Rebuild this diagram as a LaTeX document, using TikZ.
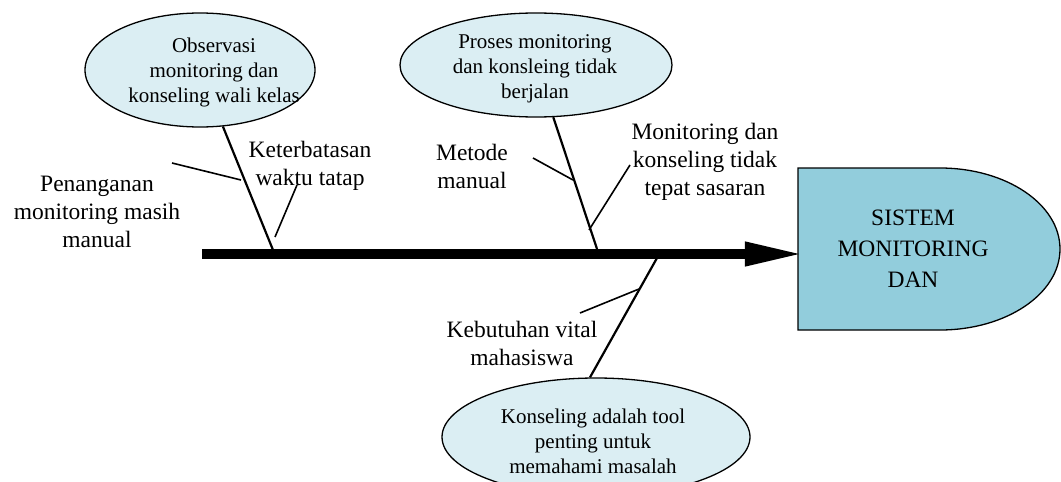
\documentclass[tikz,border=0pt]{standalone}
\usepackage{fontspec}
\setmainfont{Liberation Serif}
\usetikzlibrary{positioning,arrows.meta,shapes.geometric}
\definecolor{paleblue}{HTML}{DBEEF3}
\definecolor{boxblue}{HTML}{92CDDC}

\begin{document}
\begin{tikzpicture}[x=1pt,y=-1pt,
    bubble/.style={ellipse, draw, line width=1.3pt, fill=paleblue, inner sep=0pt},
    bubbletext/.style={align=center, font=\fontsize{21}{25}\selectfont},
    cause/.style={align=center, font=\fontsize{23.5}{28}\selectfont},
    bone/.style={line width=2.2pt},
    twig/.style={line width=1.6pt}]
  \useasboundingbox (0,0) rectangle (1061,482);
  \clip (0,0) rectangle (1061,482);

  % Effect box
  \draw[line width=1.3pt, fill=boxblue] (798,168) -- (940,168)
    arc (-90:90:120 and 81) -- (798,330) -- cycle;
  \node[cause, font=\fontsize{23.5}{31}\selectfont, minimum width=230pt] (effect) at (913,249)
    {SISTEM\\MONITORING\\DAN};

  % Spine
  \coordinate (tail) at (202,254);
  \draw[line width=10pt, -{Triangle[length=60pt, width=22pt]}, shorten >=-7pt]
    (tail) -- (tail -| effect.west);

  % Bubbles
  \node[bubble, minimum width=230pt, minimum height=114pt] (obs) at (200,70) {};
  \node[bubbletext] (obstext) at (214,72) {Observasi\\monitoring dan\\konseling wali kelas};
  \node[bubble, minimum width=272pt, minimum height=104pt] (proses) at (536,65) {};
  \node[bubbletext] (prosestext) at (535,69) {Proses monitoring\\dan konsleing tidak\\berjalan};
  \node[bubble, minimum width=308pt, minimum height=118pt] (konsel) at (596,437) {};
  \node[bubbletext] (konseltext) at (593,441) {Konseling adalah tool\\penting untuk\\memahami masalah};

  % Bones
  \coordinate (b1) at (273,250);
  \coordinate (b2) at (597,249);
  \coordinate (b3) at (657,258);
  \draw[bone] (obs) -- (b1);
  \draw[bone] (proses) -- (b2);
  \draw[bone] (b3) -- ([xshift=-6pt]konsel.north);

  % Twigs
  \coordinate (t1a) at (172,163); \coordinate (j1a) at (241,180);
  \coordinate (t1b) at (297,185); \coordinate (j1b) at (275,237);
  \coordinate (t2a) at (533,158); \coordinate (j2a) at (573,180);
  \coordinate (t2b) at (630,165); \coordinate (j2b) at (589,230);
  \coordinate (t3a) at (580,313); \coordinate (j3a) at (639,289);
  \draw[twig] (t1a) -- (j1a);
  \draw[twig] (j1b) -- (t1b);
  \draw[twig] (t2a) -- (j2a);
  \draw[twig] (j2b) -- (t2b);
  \draw[twig] (t3a) -- (j3a);

  % Cause labels
  \node[cause] (manual) at (97,212) {Penanganan\\monitoring masih\\manual};
  \node[cause] (waktu) at (310,166) {Keterbatasan\\waktu tatap};
  \node[cause] (metode) at (472,166) {Metode\\manual};
  \node[cause] (sasaran) at (705,162) {Monitoring dan\\konseling tidak\\tepat sasaran};
  \node[cause] (vital) at (522,343) {Kebutuhan vital\\mahasiswa};
\end{tikzpicture}
\end{document}
